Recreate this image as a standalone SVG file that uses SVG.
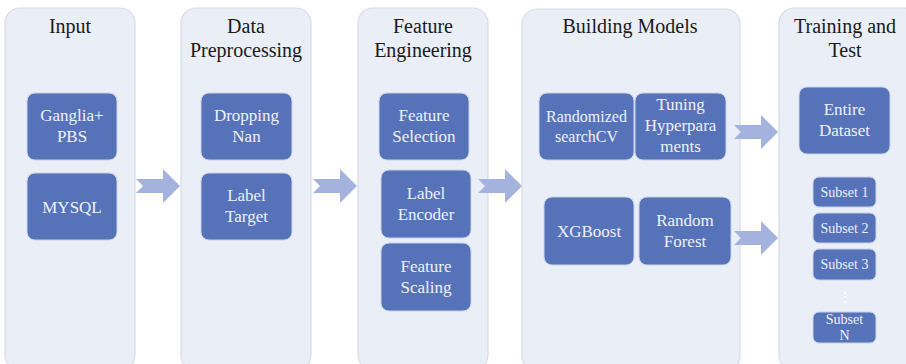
<svg xmlns="http://www.w3.org/2000/svg" width="906" height="364" viewBox="0 0 906 364" font-family="Liberation Serif, Times New Roman, DejaVu Serif, serif">
  <defs>
    <style>
      text { font-family: "Liberation Serif", "Times New Roman", "DejaVu Serif", serif; }
      .panel { fill: #e9eef7; stroke: #d6dce7; stroke-width: 1.2; }
      .box { fill: #5672b8; stroke: #c9d3ea; stroke-width: 1; }
      .title { font-size: 20px; fill: #1a1a1a; text-anchor: middle; }
      .label { font-size: 17px; fill: #eef1f8; text-anchor: middle; }
      .small { font-size: 14px; fill: #eef1f8; text-anchor: middle; }
      .arrow { fill: #a3b3dd; }
    </style>
    <!-- notched block arrow, drawn pointing right with its tip at the origin -->
    <path id="blockArrow" d="M -44 -7 L -17 -7 L -17 -17 L 0 0 L -17 17 L -17 7 L -44 7 L -37 0 Z"/>
  </defs>

  <!-- stage columns -->
  <g id="stage-input">
    <rect class="panel" x="5" y="8" width="130" height="362" rx="15"/>
    <text class="title" x="70" y="33">Input</text>
  </g>
  <g id="stage-preprocessing">
    <rect class="panel" x="181" y="8" width="130" height="362" rx="15"/>
    <text class="title" x="246" y="33">Data</text>
    <text class="title" x="246" y="57">Preprocessing</text>
  </g>
  <g id="stage-feature-engineering">
    <rect class="panel" x="358" y="8" width="130" height="362" rx="15"/>
    <text class="title" x="423" y="33">Feature</text>
    <text class="title" x="423" y="57">Engineering</text>
  </g>
  <g id="stage-building-models">
    <rect class="panel" x="522" y="9" width="218" height="362" rx="15"/>
    <text class="title" x="630" y="33">Building Models</text>
  </g>
  <g id="stage-training-test">
    <rect class="panel" x="779" y="8" width="140" height="362" rx="15"/>
    <text class="title" x="845" y="33">Training and</text>
    <text class="title" x="845" y="57">Test</text>
  </g>

  <!-- Input -->
  <g id="ganglia-pbs">
    <rect class="box" x="27" y="93" width="90" height="67" rx="8"/>
    <text class="label" x="72" y="121">Ganglia+</text>
    <text class="label" x="72" y="142">PBS</text>
  </g>
  <g id="mysql">
    <rect class="box" x="27" y="173" width="90" height="67" rx="8"/>
    <text class="label" x="72" y="213">MYSQL</text>
  </g>

  <!-- Data preprocessing -->
  <g id="dropping-nan">
    <rect class="box" x="201" y="93" width="91" height="67" rx="8"/>
    <text class="label" x="246.5" y="121">Dropping</text>
    <text class="label" x="246.5" y="142">Nan</text>
  </g>
  <g id="label-target">
    <rect class="box" x="201" y="173" width="91" height="67" rx="8"/>
    <text class="label" x="246.5" y="201">Label</text>
    <text class="label" x="246.5" y="222">Target</text>
  </g>

  <!-- Feature engineering -->
  <g id="feature-selection">
    <rect class="box" x="379" y="93" width="90" height="67" rx="8"/>
    <text class="label" x="424" y="121">Feature</text>
    <text class="label" x="424" y="142">Selection</text>
  </g>
  <g id="label-encoder">
    <rect class="box" x="381" y="170" width="90" height="68" rx="8"/>
    <text class="label" x="426" y="199">Label</text>
    <text class="label" x="426" y="220">Encoder</text>
  </g>
  <g id="feature-scaling">
    <rect class="box" x="381" y="243" width="90" height="68" rx="8"/>
    <text class="label" x="426" y="272">Feature</text>
    <text class="label" x="426" y="293">Scaling</text>
  </g>

  <!-- Building models -->
  <g id="randomized-searchcv">
    <rect class="box" x="539" y="93" width="95" height="67" rx="8"/>
    <text class="small" x="586.5" y="122" style="font-size:16px">Randomized</text>
    <text class="small" x="586.5" y="142" style="font-size:16px">searchCV</text>
  </g>
  <g id="tuning-hyperparaments">
    <rect class="box" x="635" y="93" width="91" height="67" rx="8"/>
    <text class="label" x="680.5" y="110">Tuning</text>
    <text class="label" x="680.5" y="131">Hyperpara</text>
    <text class="label" x="680.5" y="152">ments</text>
  </g>
  <g id="xgboost">
    <rect class="box" x="544" y="197" width="90" height="68" rx="8"/>
    <text class="label" x="589" y="237">XGBoost</text>
  </g>
  <g id="random-forest">
    <rect class="box" x="639" y="197" width="92" height="68" rx="8"/>
    <text class="label" x="685" y="226">Random</text>
    <text class="label" x="685" y="247">Forest</text>
  </g>

  <!-- Training and test -->
  <g id="entire-dataset">
    <rect class="box" x="799" y="87" width="91" height="67" rx="8"/>
    <text class="label" x="844.5" y="115">Entire</text>
    <text class="label" x="844.5" y="136">Dataset</text>
  </g>
  <g id="subset-1">
    <rect class="box" x="813" y="177" width="63" height="30" rx="6"/>
    <text class="small" x="844.5" y="197">Subset 1</text>
  </g>
  <g id="subset-2">
    <rect class="box" x="813" y="213" width="63" height="30" rx="6"/>
    <text class="small" x="844.5" y="233">Subset 2</text>
  </g>
  <g id="subset-3">
    <rect class="box" x="813" y="249" width="63" height="31" rx="6"/>
    <text class="small" x="844.5" y="269">Subset 3</text>
  </g>
  <g id="subset-ellipsis">
    <text class="small" x="844.5" y="302" style="fill:#ffffff">⋮</text>
  </g>
  <g id="subset-n">
    <rect class="box" x="813" y="312" width="63" height="31" rx="6"/>
    <text class="small" x="844.5" y="324">Subset</text>
    <text class="small" x="844.5" y="340">N</text>
  </g>

  <!-- connectors between stages -->
  <g id="connectors" class="arrow">
    <use href="#blockArrow" x="180" y="186"/>
    <use href="#blockArrow" x="357" y="186"/>
    <use href="#blockArrow" x="522" y="186"/>
    <use href="#blockArrow" x="778" y="132"/>
    <use href="#blockArrow" x="778" y="238"/>
  </g>
</svg>
